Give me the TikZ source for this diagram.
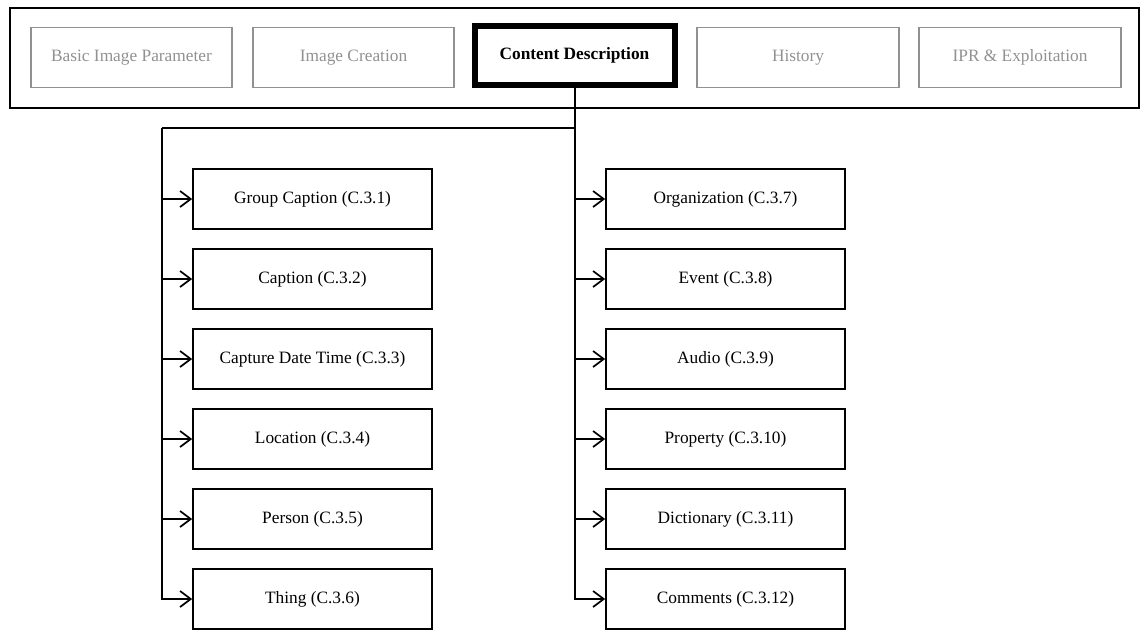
\documentclass[tikz,border=0pt]{standalone}
\usepackage{fontspec}
\setmainfont{Liberation Serif}
\usetikzlibrary{arrows.meta}
\definecolor{dimgray}{RGB}{145,145,145}
\tikzset{
  top/.style={draw=dimgray, text=dimgray, line width=1.3pt, minimum width=151pt, minimum height=45pt, inner sep=0pt, font=\fontsize{13}{15}\selectfont},
  cur/.style={draw=black, line width=4.5pt, minimum width=150pt, minimum height=44pt, inner sep=0pt, font=\fontsize{13}{15}\selectfont\bfseries},
  child/.style={draw=black, line width=1.5pt, minimum width=179pt, minimum height=45pt, inner sep=0pt, font=\fontsize{13}{15}\selectfont},
  conn/.style={line width=1.5pt},
  arr/.style={line width=1.5pt, -{Straight Barb[length=8pt,width=12pt,line width=1.3pt]}}
}
\begin{document}
\begin{tikzpicture}[x=0.75pt,y=-0.75pt]
\useasboundingbox (0,0) rectangle (1142,633);
\node[draw=black, line width=1.2pt, minimum width=847pt, minimum height=75pt, inner sep=0pt] (outer) at (574.5,58) {};
\node[top] (basic) at (131.5,57.5) {Basic Image Parameter};
\node[top] (ic) at (353.5,57.5) {Image Creation};
\node[cur] (cd) at (574.5,55.5) {Content Description};
\node[top] (hist) at (798,57.5) {History};
\node[top] (ipr) at (1020,57.5) {IPR \& Exploitation};
% left column
\node[child] (l1) at (312.5,199) {Group Caption (C.3.1)};
\node[child] (l2) at (312.5,279) {Caption (C.3.2)};
\node[child] (l3) at (312.5,359) {Capture Date Time (C.3.3)};
\node[child] (l4) at (312.5,439) {Location (C.3.4)};
\node[child] (l5) at (312.5,519) {Person (C.3.5)};
\node[child] (l6) at (312.5,599) {Thing (C.3.6)};
% right column
\node[child] (r1) at (725.5,199) {Organization (C.3.7)};
\node[child] (r2) at (725.5,279) {Event (C.3.8)};
\node[child] (r3) at (725.5,359) {Audio (C.3.9)};
\node[child] (r4) at (725.5,439) {Property (C.3.10)};
\node[child] (r5) at (725.5,519) {Dictionary (C.3.11)};
\node[child] (r6) at (725.5,599) {Comments (C.3.12)};
\coordinate (lj) at (162,128);
\coordinate (rj) at (574.5,128);
\coordinate (ls) at (162,0);
\coordinate (rs) at (574.5,0);
\draw[conn] (cd.south) -- (rj) -- (lj);
\draw[arr] (lj) |- (l6.west);
\draw[arr] (cd.south) |- (r6.west);
\foreach \i in {1,...,5}{
  \draw[arr] (ls |- l\i.west) -- (l\i.west);
  \draw[arr] (rs |- r\i.west) -- (r\i.west);
}
\end{tikzpicture}
\end{document}
